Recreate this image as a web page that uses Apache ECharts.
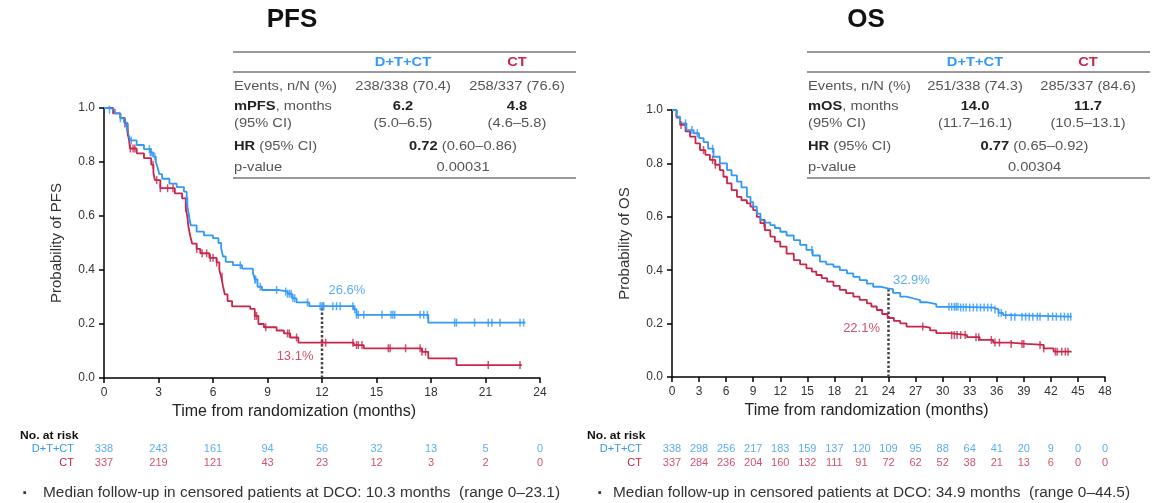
<!DOCTYPE html>
<html>
<head>
<meta charset="utf-8">
<script src="https://cdn.jsdelivr.net/npm/echarts@6/dist/echarts.min.js"></script>
<style>
  html, body { margin: 0; padding: 0; background: #fff; }
  #c { width: 1153px; height: 503px; }
</style>
</head>
<body>
<div id="c"></div>
<script>
// ---------- Kaplan–Meier estimates: [month, survival probability] ----------
const pfsDTCT = [
  [0, 1], [0.3, 0.994], [0.6, 0.98], [0.9, 0.962], [1.1, 0.947], [1.25, 0.925], [1.35, 0.9],
  [1.45, 0.88], [1.8, 0.863], [2.2, 0.848], [2.55, 0.836], [2.7, 0.82], [2.85, 0.8], [2.95, 0.78],
  [3.05, 0.755], [3.2, 0.738], [3.6, 0.72], [4.0, 0.707], [4.4, 0.69], [4.55, 0.655], [4.62, 0.625],
  [4.7, 0.59], [4.78, 0.565], [5.1, 0.542], [5.5, 0.528], [6.0, 0.518], [6.3, 0.5], [6.45, 0.48],
  [6.55, 0.45], [6.7, 0.43], [7.1, 0.418], [7.6, 0.405], [8.2, 0.39], [8.3, 0.365], [8.45, 0.338],
  [8.7, 0.326], [9.6, 0.32], [10.1, 0.312], [10.35, 0.295], [10.6, 0.28], [11.3, 0.266],
  [13.75, 0.255], [13.9, 0.234], [17.85, 0.205], [23.2, 0.205]
];
const pfsCT = [
  [0, 1], [0.5, 0.98], [0.9, 0.963], [1.15, 0.943], [1.3, 0.91], [1.38, 0.88], [1.43, 0.85],
  [1.8, 0.832], [2.2, 0.814], [2.6, 0.79], [2.72, 0.76], [2.8, 0.733], [3.1, 0.703], [3.9, 0.684],
  [4.3, 0.665], [4.5, 0.63], [4.58, 0.6], [4.65, 0.56], [4.75, 0.525], [4.85, 0.498], [5.1, 0.478],
  [5.3, 0.462], [5.8, 0.445], [6.2, 0.428], [6.35, 0.4], [6.45, 0.375], [6.55, 0.34], [6.65, 0.31],
  [6.8, 0.285], [7.05, 0.265], [8.05, 0.256], [8.3, 0.23], [8.5, 0.2], [8.8, 0.188], [9.5, 0.176],
  [9.9, 0.165], [10.25, 0.15], [10.7, 0.131], [13.75, 0.122], [14.3, 0.11], [17.5, 0.097],
  [17.85, 0.073], [19.4, 0.048], [23.0, 0.048]
];
const osDTCT = [
  [0, 1], [0.5, 0.975], [0.9, 0.95], [1.6, 0.925], [2.4, 0.913], [3.0, 0.895], [3.5, 0.88],
  [4.0, 0.855], [4.6, 0.825], [5.3, 0.8], [6.1, 0.775], [6.6, 0.755], [7.2, 0.732], [7.7, 0.71],
  [8.3, 0.675], [8.7, 0.655], [9.0, 0.638], [9.4, 0.612], [9.8, 0.588], [10.3, 0.578], [10.9, 0.569],
  [11.4, 0.558], [12.0, 0.544], [12.7, 0.53], [13.5, 0.513], [14.2, 0.495], [14.9, 0.476],
  [15.6, 0.455], [16.4, 0.432], [17.1, 0.422], [17.9, 0.413], [18.6, 0.4], [19.4, 0.388],
  [20.1, 0.375], [20.8, 0.363], [21.6, 0.35], [22.3, 0.338], [23.2, 0.332], [23.9, 0.329],
  [24.5, 0.315], [25.3, 0.301], [26.0, 0.294], [26.8, 0.288], [27.5, 0.28], [28.2, 0.273],
  [29.3, 0.263], [32.0, 0.26], [35.6, 0.253], [36.2, 0.24], [36.7, 0.232], [37.5, 0.226], [44.3, 0.226]
];
const osCT = [
  [0, 1], [0.5, 0.972], [0.9, 0.944], [1.5, 0.92], [2.0, 0.9], [2.6, 0.875], [3.1, 0.85],
  [3.7, 0.832], [4.2, 0.813], [4.8, 0.795], [5.3, 0.775], [5.7, 0.75], [6.1, 0.725], [6.6, 0.7],
  [7.2, 0.675], [7.7, 0.662], [8.3, 0.65], [8.7, 0.638], [9.0, 0.625], [9.4, 0.6], [9.8, 0.576],
  [10.3, 0.55], [10.9, 0.526], [11.4, 0.507], [12.0, 0.488], [12.7, 0.462], [13.5, 0.438],
  [14.2, 0.422], [14.9, 0.407], [15.5, 0.395], [16.0, 0.382], [16.6, 0.37], [17.2, 0.357],
  [17.9, 0.341], [18.6, 0.326], [19.3, 0.314], [20.1, 0.301], [20.8, 0.289], [21.6, 0.276],
  [22.1, 0.264], [22.7, 0.251], [23.3, 0.236], [23.9, 0.221], [24.6, 0.21], [25.3, 0.201],
  [26.0, 0.189], [27.9, 0.185], [28.6, 0.175], [29.3, 0.164], [30.8, 0.157], [32.7, 0.149],
  [34.1, 0.139], [35.6, 0.129], [37.5, 0.124], [39.3, 0.12], [41.2, 0.107], [42.3, 0.095], [44.3, 0.095]
];

// ---------- censoring times (months) ----------
const pfsCensorDTCT = [0.3, 0.9, 1.15, 1.3, 1.5, 2.5, 2.55, 2.6, 2.8, 4.6, 4.7, 7.5, 8.3, 8.35, 8.6, 9.5,
  10.0, 10.1, 10.2, 10.3, 10.4, 10.5, 11.2, 11.9, 12.0, 12.05, 12.1, 12.6, 12.8, 13.0, 13.7, 13.8,
  13.9, 14.0, 14.3, 15.3, 15.8, 15.9, 16.0, 17.4, 17.6, 17.8, 19.3, 19.4, 20.4, 21.15, 21.35, 21.8, 22.9, 23.1];
const pfsCensorCT = [1.15, 1.3, 1.45, 1.6, 1.7, 2.7, 2.9, 3.1, 3.5, 3.8, 4.5, 5.1, 5.4, 5.65, 5.85, 6.0,
  6.2, 6.5, 8.3, 8.4, 8.9, 10.1, 10.2, 10.6, 12.0, 12.2, 13.7, 13.9, 14.0, 14.2, 15.65, 15.75, 16.6,
  17.4, 17.5, 17.7, 21.15, 22.9];
const osCensorDTCT = [1.5, 2.2, 2.8, 4.5, 15.5, 30.7, 31.0, 31.3, 31.5, 31.7, 32.0, 32.3, 32.6, 33.0,
  33.4, 33.8, 34.2, 34.6, 35.0, 35.4, 35.8, 36.2, 36.5, 37.0, 37.6, 38.0, 38.8, 39.2, 39.6, 40.0,
  40.5, 40.8, 41.7, 42.2, 42.6, 43.1, 43.5, 43.9, 44.2];
const osCensorCT = [1.0, 3.5, 4.5, 4.8, 10.2, 27.8, 31.0, 31.3, 31.6, 32.0, 32.5, 33.7, 34.0, 35.4,
  35.8, 36.3, 37.6, 38.8, 39.0, 40.8, 41.2, 42.5, 42.7, 43.2, 43.6, 43.9];

// ---------- landmark estimates ----------
const pfsLandmarkMonth = 12;
const pfsLandmark = { dtct: 0.266, ct: 0.131 };
const osLandmarkMonth = 24;
const osLandmark = { dtct: 0.329, ct: 0.221 };

// ---------- number at risk ----------
const armNames = ['D+T+CT', 'CT'];
const pfsRiskTimes = [0, 3, 6, 9, 12, 15, 18, 21, 24];
const pfsRiskDTCT = [338, 243, 161, 94, 56, 32, 13, 5, 0];
const pfsRiskCT = [337, 219, 121, 43, 23, 12, 3, 2, 0];
const osRiskTimes = [0, 3, 6, 9, 12, 15, 18, 21, 24, 27, 30, 33, 36, 39, 42, 45, 48];
const osRiskDTCT = [338, 298, 256, 217, 183, 159, 137, 120, 109, 95, 88, 64, 41, 20, 9, 0, 0];
const osRiskCT = [337, 284, 236, 204, 160, 132, 111, 91, 72, 62, 52, 38, 21, 13, 6, 0, 0];

// ---------- summary statistics ----------
const pfsStats = {
  events: ['238/338 (70.4)', '258/337 (76.6)'],
  median: ['6.2', '4.8'], medianCI: ['(5.0–6.5)', '(4.6–5.8)'],
  hr: '0.72', hrCI: '(0.60–0.86)', p: '0.00031'
};
const osStats = {
  events: ['251/338 (74.3)', '285/337 (84.6)'],
  median: ['14.0', '11.7'], medianCI: ['(11.7–16.1)', '(10.5–13.1)'],
  hr: '0.77', hrCI: '(0.65–0.92)', p: '0.00304'
};
const pfsFootnote = 'Median follow-up in censored patients at DCO: 10.3 months  (range 0–23.1)';
const osFootnote = 'Median follow-up in censored patients at DCO: 34.9 months  (range 0–44.5)';

// ---------- styling ----------
const FONT = '"Liberation Sans", Arial, Helvetica, sans-serif';
const BLUE = '#3399F5';
const RED = '#C8264A';
const TXT = '#555';
const WIDE = 1.13;   // horizontal stretch of the annotation text

function levelAt(curve, t) {
  let s = curve[0][1];
  for (const [x, y] of curve) { if (x <= t) s = y; else break; }
  return s;
}

function kmSeries(data, color, idx) {
  return { type: 'line', xAxisIndex: idx, yAxisIndex: idx, data, step: 'end', symbol: 'none',
    showSymbol: false, lineStyle: { color, width: 1.8 }, z: 3, silent: true };
}
function censorSeries(curve, times, color, idx) {
  return { type: 'scatter', xAxisIndex: idx, yAxisIndex: idx,
    data: times.map(t => [t, levelAt(curve, t)]), symbol: 'rect', symbolSize: [1.5, 8],
    itemStyle: { color }, z: 4, silent: true };
}
function landmarkLine(month, value, idx) {
  return { type: 'line', xAxisIndex: idx, yAxisIndex: idx, data: [[month, 0], [month, value]],
    symbol: 'none', lineStyle: { color: '#444', width: 2.5, type: [2.5, 2] }, z: 2, silent: true };
}
function landmarkLabel(month, value, color, idx, position, distance, offset) {
  return { type: 'scatter', xAxisIndex: idx, yAxisIndex: idx, data: [[month, value]], symbolSize: 1,
    itemStyle: { color: 'transparent' }, z: 5, silent: true,
    label: { show: true, position, distance, offset, color, fontSize: 13, fontFamily: FONT,
      formatter: () => (value * 100).toFixed(1) + '%' } };
}
function riskSeries(times, counts, arm, color, idx) {
  return { type: 'scatter', xAxisIndex: idx, yAxisIndex: idx, symbolSize: 1,
    itemStyle: { color: 'transparent' }, silent: true,
    data: times.map((t, i) => [t, arm, counts[i]]),
    label: { show: true, position: 'inside', color, fontSize: 11, fontFamily: FONT,
      formatter: p => String(p.value[2]) } };
}

function timeAxis(gridIndex, max, shiftLeft) {
  return { type: 'value', gridIndex, min: 0, max, interval: 3,
    name: 'Time from randomization (months)', nameLocation: 'middle', nameGap: 26,
    nameTextStyle: { fontSize: 16, color: '#222', fontFamily: FONT, padding: [0, shiftLeft * 2, 0, 0] },
    axisLine: { show: true, onZero: false, lineStyle: { color: '#000', width: 1.5 } },
    axisTick: { show: true, length: 5, lineStyle: { color: '#000', width: 1.5 } },
    axisLabel: { fontSize: 12, color: '#333', margin: 9, fontFamily: FONT },
    splitLine: { show: false } };
}
function probAxis(gridIndex, name) {
  return { type: 'value', gridIndex, min: 0, max: 1, interval: 0.2,
    name, nameLocation: 'middle', nameGap: 40, nameRotate: 90,
    nameTextStyle: { fontSize: 15, color: '#333', fontFamily: FONT },
    axisLine: { show: true, onZero: false, lineStyle: { color: '#000', width: 1.5 } },
    axisTick: { show: true, length: 5, lineStyle: { color: '#000', width: 1.5 } },
    axisLabel: { fontSize: 12, color: '#333', margin: 9, fontFamily: FONT, formatter: v => v.toFixed(1) },
    splitLine: { show: false } };
}
function riskAxisY(gridIndex, margin) {
  return { type: 'category', gridIndex, data: armNames, inverse: true,
    axisLine: { show: false }, axisTick: { show: false },
    axisLabel: { interval: 0, fontSize: 11, margin, fontFamily: FONT,
      color: v => (v === 'CT' ? RED : BLUE) } };
}

// stretched annotation text element
function label(t, x, y, style, sx) {
  return { type: 'text', silent: true, x, y, scaleX: sx === undefined ? WIDE : sx,
    style: Object.assign({ text: t, x: 0, y: 0, verticalAlign: 'middle', fontFamily: FONT,
      fill: '#333', fontSize: 13 }, style || {}) };
}

// summary table drawn as text + rules
function statsTable(x0, x1, c1, c2, name, s) {
  const mid = (c1 + c2) / 2 + 3;
  const els = [];
  const rule = (y) => els.push({ type: 'line', silent: true,
    shape: { x1: x0, y1: y, x2: x1, y2: y }, style: { stroke: '#777', lineWidth: 1.3 } });
  const txt = (t, x, y, align, extra) => els.push(label(t, x, y, Object.assign({ align, fill: TXT,
    rich: { b: { fontWeight: 'bold', fill: '#222', fontSize: 13, fontFamily: FONT } } }, extra || {})));
  rule(52); rule(72); rule(178);
  txt('D+T+CT', c1, 62, 'center', { fill: BLUE, fontWeight: 'bold' });
  txt('CT', c2, 62, 'center', { fill: RED, fontWeight: 'bold' });
  txt('Events, n/N (%)', x0 + 1, 86, 'left');
  txt(s.events[0], c1, 86, 'center');
  txt(s.events[1], c2, 86, 'center');
  txt('{b|' + name + '}, months', x0 + 1, 106, 'left');
  txt(s.median[0], c1, 106, 'center', { fontWeight: 'bold', fill: '#222' });
  txt(s.median[1], c2, 106, 'center', { fontWeight: 'bold', fill: '#222' });
  txt('(95% CI)', x0 + 1, 123, 'left');
  txt(s.medianCI[0], c1, 123, 'center');
  txt(s.medianCI[1], c2, 123, 'center');
  txt('{b|HR} (95% CI)', x0 + 1, 146, 'left');
  txt('{b|' + s.hr + '} ' + s.hrCI, mid, 146, 'center');
  txt('p-value', x0 + 1, 167, 'left');
  txt(s.p, mid, 167, 'center');
  return els;
}

const chart = echarts.init(document.getElementById('c'), null, { renderer: 'canvas' });

const option = {
  animation: false,
  backgroundColor: '#fff',
  grid: [
    { left: 104, top: 108, width: 436, height: 270 },
    { left: 672, top: 110, width: 433, height: 267 },
    { left: 104, top: 442, width: 436, height: 28 },
    { left: 672, top: 442, width: 433, height: 28 }
  ],
  xAxis: [
    timeAxis(0, 24, 28),
    timeAxis(1, 48, 22),
    { type: 'value', gridIndex: 2, min: 0, max: 24, show: false },
    { type: 'value', gridIndex: 3, min: 0, max: 48, show: false }
  ],
  yAxis: [
    probAxis(0, 'Probability of PFS'),
    probAxis(1, 'Probability of OS'),
    riskAxisY(2, 30),
    riskAxisY(3, 30)
  ],
  series: [
    landmarkLine(pfsLandmarkMonth, pfsLandmark.dtct, 0),
    kmSeries(pfsCT, RED, 0),
    kmSeries(pfsDTCT, BLUE, 0),
    censorSeries(pfsCT, pfsCensorCT, RED, 0),
    censorSeries(pfsDTCT, pfsCensorDTCT, BLUE, 0),
    landmarkLabel(pfsLandmarkMonth, pfsLandmark.dtct, BLUE, 0, 'right', 6, [0, -16]),
    landmarkLabel(pfsLandmarkMonth, pfsLandmark.ct, RED, 0, 'left', 8, [0, 14]),

    landmarkLine(osLandmarkMonth, osLandmark.dtct, 1),
    kmSeries(osCT, RED, 1),
    kmSeries(osDTCT, BLUE, 1),
    censorSeries(osCT, osCensorCT, RED, 1),
    censorSeries(osDTCT, osCensorDTCT, BLUE, 1),
    landmarkLabel(osLandmarkMonth, osLandmark.dtct, BLUE, 1, 'right', 4, [0, -9]),
    landmarkLabel(osLandmarkMonth, osLandmark.ct, RED, 1, 'left', 8, [0, 10]),

    riskSeries(pfsRiskTimes, pfsRiskDTCT, armNames[0], BLUE, 2),
    riskSeries(pfsRiskTimes, pfsRiskCT, armNames[1], RED, 2),
    riskSeries(osRiskTimes, osRiskDTCT, armNames[0], BLUE, 3),
    riskSeries(osRiskTimes, osRiskCT, armNames[1], RED, 3)
  ],
  graphic: [
    label('PFS', 292, 20, { align: 'center', fontSize: 26, fontWeight: 'bold', fill: '#111' }, 1.0),
    label('OS', 866, 20, { align: 'center', fontSize: 26, fontWeight: 'bold', fill: '#111' }, 1.0),
    ...statsTable(233, 576, 403, 517, 'mPFS', pfsStats),
    ...statsTable(807, 1150, 975, 1088, 'mOS', osStats),
    label('No. at risk', 20, 436, { fontSize: 11, fontWeight: 'bold', fill: '#111' }, 1.1),
    label('No. at risk', 587, 436, { fontSize: 11, fontWeight: 'bold', fill: '#111' }, 1.1),
    label('▪', 23, 493, { fontSize: 11 }, 1),
    label(pfsFootnote, 43, 493, { fontSize: 14 }, 1.1),
    label('▪', 598, 493, { fontSize: 11 }, 1),
    label(osFootnote, 613, 493, { fontSize: 14 }, 1.1)
  ]
};

chart.setOption(option);
</script>
</body>
</html>
